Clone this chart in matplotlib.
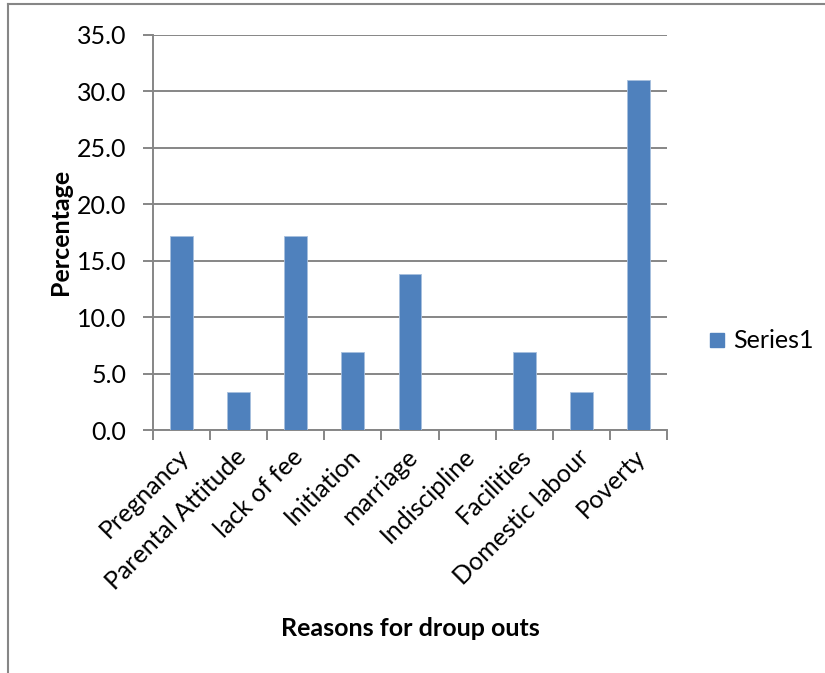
import numpy as np
import matplotlib.pyplot as plt
from matplotlib.patches import Rectangle

# -------------------------
# Data
# -------------------------
reasons = ['Pregnancy', 'Parental Attitude', 'lack of fee', 'Initiation',
           'marriage', 'Indiscipline', 'Facilities', 'Domestic labour', 'Poverty']
percentage = [17.2, 3.4, 17.2, 6.9, 13.8, 0.0, 6.9, 3.4, 31.0]
yticks = [0, 5, 10, 15, 20, 25, 30, 35]

plt.rcParams['font.family'] = ['Lato', 'DejaVu Sans']
FS = 18

W, H = 825, 673
fig = plt.figure(figsize=(W / 100, H / 100), dpi=100)

# axes box in pixel coords
x0, x1 = 153, 667
y_top, y_bot = 35, 430
ax = fig.add_axes([x0 / W, 1 - y_bot / H, (x1 - x0) / W, (y_bot - y_top) / H])

grid_c = '#868686'
x = np.arange(len(reasons))
ax.bar(x, percentage, width=0.4, color='#4F81BD', edgecolor='#A7BFDE',
       linewidth=0.6, zorder=3, label='Series1')

ax.set_xlim(-0.5, len(reasons) - 0.5)
ax.set_ylim(0, 35)
ax.set_yticks(yticks)
ax.set_yticklabels(['{:.1f}'.format(v) for v in yticks], fontsize=FS)
ax.yaxis.grid(True, color=grid_c, linewidth=1.4, zorder=0)
ax.tick_params(axis='y', length=7, width=1.4, color=grid_c, pad=12)

# category ticks sit between the bars
ax.set_xticks(np.arange(len(reasons) + 1) - 0.5)
ax.set_xticklabels([])
ax.tick_params(axis='x', length=7, width=1.4, color=grid_c)
for i, name in enumerate(reasons):
    ax.text(i - 0.08, -1.3, name, rotation=45, ha='right', va='top',
            rotation_mode='anchor', fontsize=FS, transform=ax.transData)

for side in ['top', 'right']:
    ax.spines[side].set_visible(False)
for side in ['left', 'bottom']:
    ax.spines[side].set_color(grid_c)
    ax.spines[side].set_linewidth(1.4)

fig.text(60 / W, 1 - 232 / H, 'Percentage', fontsize=FS, fontweight='bold',
         rotation=90, ha='center', va='center')
fig.text(410 / W, 1 - 628 / H, 'Reasons for droup outs', fontsize=FS,
         fontweight='bold', ha='center', va='center')

# legend
fig.patches.append(Rectangle((710 / W, 1 - 347 / H), 14 / W, 14 / H,
                             transform=fig.transFigure, color='#4F81BD'))
fig.text(733 / W, 1 - 341 / H, 'Series1', fontsize=FS, ha='left', va='center')

# outer chart border
fig.add_artist(plt.Line2D([8 / W, 8 / W], [0, 1 - 4 / H], color=grid_c,
                          linewidth=1.5, transform=fig.transFigure))
fig.add_artist(plt.Line2D([8 / W, 1], [1 - 4 / H, 1 - 4 / H], color=grid_c,
                          linewidth=1.5, transform=fig.transFigure))

fig.savefig('out.png', dpi=100)
